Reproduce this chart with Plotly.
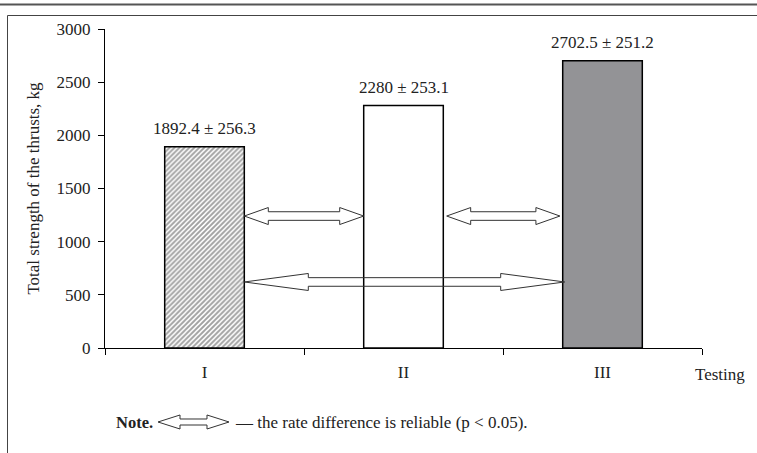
import plotly.graph_objects as go

# ---- data ----
categories = ["I", "II", "III"]
means = [1892.4, 2280.0, 2702.5]
sds = [256.3, 253.1, 251.2]
bar_labels = [f"{m:g} ± {s}" for m, s in zip(means, sds)]
# significant-difference arrows: (x start, x end, y level)
arrow_x0 = [0.2, 1.217, 0.2]
arrow_x1 = [0.8, 1.786, 1.81]
arrow_y = [1241, 1241, 621]
arrow_head_len_px = [24, 24, 64]

W, H = 757, 453
L, R, T, B = 105, 55, 29, 105
PW, PH = W - L - R, H - T - B
YMAX = 3000
XR = (-0.5, 2.5)
dx = (XR[1] - XR[0]) / PW
dy = YMAX / PH

FONT = "Liberation Serif"

fig = go.Figure()

fig.add_trace(go.Bar(
    x=[0, 1, 2], y=means, width=0.4,
    marker=dict(
        color=["white", "white", "#939396"],
        line=dict(color="black", width=1.5),
        pattern=dict(shape=["/", "", ""], fgcolor="black", bgcolor="white",
                     size=3.5, solidity=0.55),
    ),
    hoverinfo="skip", showlegend=False,
))


def arrow_poly(x0, x1, yc, head_px, head_h=8.5, shaft_h=4.3):
    hx = head_px * dx
    hh = head_h * dy
    sh = shaft_h * dy
    xs = [x0, x0 + hx, x0 + hx, x1 - hx, x1 - hx, x1, x1 - hx, x1 - hx, x0 + hx, x0 + hx, x0]
    ys = [yc, yc + hh, yc + sh, yc + sh, yc + hh, yc, yc - hh, yc - sh, yc - sh, yc - hh, yc]
    return xs, ys


for x0, x1, yc, hp in zip(arrow_x0, arrow_x1, arrow_y, arrow_head_len_px):
    xs, ys = arrow_poly(x0, x1, yc, hp)
    fig.add_trace(go.Scatter(x=xs, y=ys, mode="lines",
                             line=dict(color="#333333", width=1),
                             hoverinfo="skip", showlegend=False))

for i, (m, lab) in enumerate(zip(means, bar_labels)):
    fig.add_annotation(x=i, y=m, text=lab, showarrow=False, yanchor="middle",
                       yshift=18, font=dict(family=FONT, size=17, color="#222"))


def px2paper(px, py):
    return (px - L) / PW, (H - B - py) / PH


# frame lines
shapes = []
x0p, y0p = px2paper(0, 4.5)
x1p, _ = px2paper(W, 4.5)
shapes.append(dict(type="line", xref="paper", yref="paper", x0=x0p, x1=x1p, y0=y0p, y1=y0p,
                   line=dict(color="#555555", width=2)))
xa, ya = px2paper(7.5, 15.5)
xb, _ = px2paper(W + 5, 15.5)
_, yb = px2paper(0, H + 5)
shapes.append(dict(type="line", xref="paper", yref="paper", x0=xa, x1=xb, y0=ya, y1=ya,
                   line=dict(color="#444444", width=1)))
shapes.append(dict(type="line", xref="paper", yref="paper", x0=xa, x1=xa, y0=ya, y1=yb,
                   line=dict(color="#444444", width=1)))

# note arrow glyph
nx0, nx1, ny = 158, 229, 422
hl, hh, sh = 22, 7, 3
pts = [(nx0, ny), (nx0 + hl, ny - hh), (nx0 + hl, ny - sh), (nx1 - hl, ny - sh), (nx1 - hl, ny - hh),
       (nx1, ny), (nx1 - hl, ny + hh), (nx1 - hl, ny + sh), (nx0 + hl, ny + sh), (nx0 + hl, ny + hh)]
path = "M " + " L ".join(f"{px2paper(a, b)[0]:.5f},{px2paper(a, b)[1]:.5f}" for a, b in pts) + " Z"
shapes.append(dict(type="path", xref="paper", yref="paper", path=path,
                   line=dict(color="#333333", width=1)))

fig.update_layout(shapes=shapes)

nxp, nyp = px2paper(114, 422)
fig.add_annotation(xref="paper", yref="paper", x=nxp, y=nyp, text="<b>Note.</b>",
                   showarrow=False, xanchor="left", yanchor="middle",
                   font=dict(family=FONT, size=16.5, color="#222"))
tx, _ = px2paper(233, 422)
fig.add_annotation(xref="paper", yref="paper", x=tx, y=nyp,
                   text="— the rate difference is reliable (p < 0.05).",
                   showarrow=False, xanchor="left", yanchor="middle",
                   font=dict(family=FONT, size=17, color="#222"))
ttx, tty = px2paper(720, 374)
fig.add_annotation(xref="paper", yref="paper", x=ttx, y=tty, text="Testing",
                   showarrow=False, xanchor="center", yanchor="middle",
                   font=dict(family=FONT, size=17, color="#222"))

fig.update_layout(
    width=W, height=H,
    margin=dict(l=L, r=R, t=T, b=B),
    paper_bgcolor="white", plot_bgcolor="white",
    font=dict(family=FONT, size=17, color="#222"),
    bargap=0,
    xaxis=dict(range=list(XR), tickmode="array", tickvals=[0, 1, 2], ticktext=categories,
               ticks="outside", ticklen=9, tickcolor="rgba(0,0,0,0)",
               showline=True, linecolor="black", linewidth=1, showgrid=False, zeroline=False,
               minor=dict(tickmode="array", tickvals=[-0.5, 0.5, 1.5, 2.5], ticks="outside",
                          ticklen=6, tickcolor="black", tickwidth=1, showgrid=False),
               fixedrange=True),
    yaxis=dict(range=[0, YMAX], tickmode="array", tickvals=[0, 500, 1000, 1500, 2000, 2500, 3000],
               ticks="outside", ticklen=6, tickcolor="black", showline=True, linecolor="black",
               linewidth=1, showgrid=False, zeroline=False, ticklabelstandoff=4,
               title=dict(text="Total strength of the thrusts, kg", standoff=12,
                          font=dict(family=FONT, size=17)),
               fixedrange=True),
)

fig.write_html("out.html", config={"displayModeBar": False, "staticPlot": True},
               post_script="document.body.style.margin='0';document.body.style.overflow='hidden';")
